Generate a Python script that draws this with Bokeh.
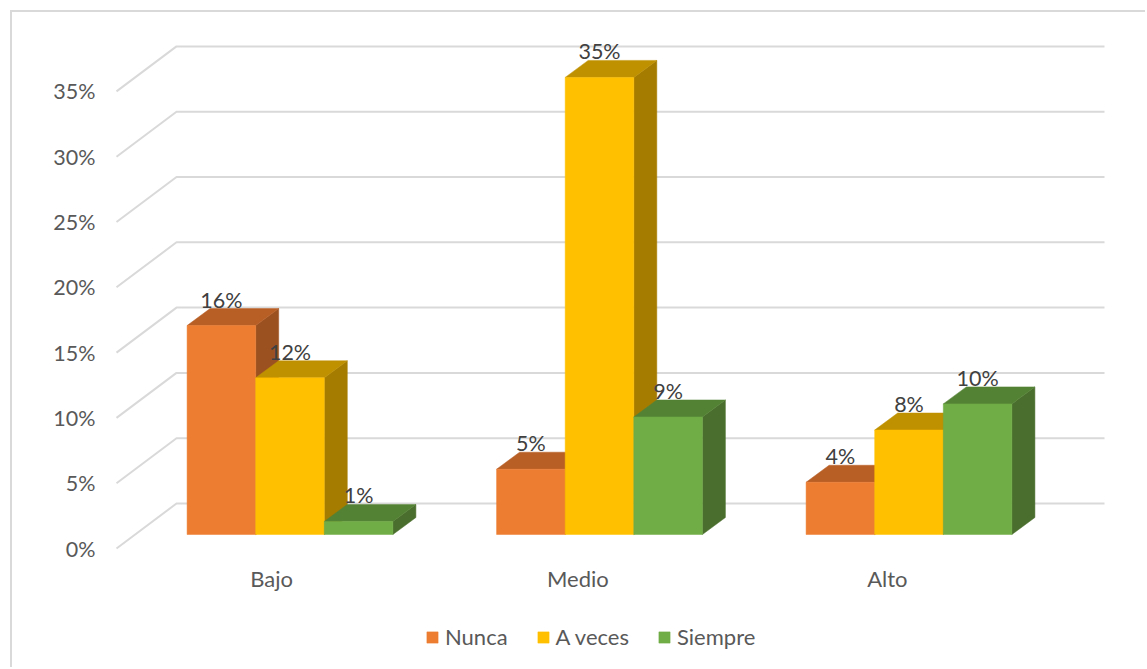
from bokeh.plotting import figure
from bokeh.models import (Range1d, FixedTicker, PrintfTickFormatter, Legend, LegendItem)
from bokeh.core.properties import value
from bokeh.embed import file_html
from bokeh.resources import INLINE

categories = ["Bajo", "Medio", "Alto"]
nunca = [16, 5, 4]
a_veces = [12, 35, 8]
siempre = [1, 9, 10]
series_names = ["Nunca", "A veces", "Siempre"]
y_ticks = [0, 5, 10, 15, 20, 25, 30, 35]
category_ticks = [-0.0595, 0.93, 1.93]
front_colors = ["#ED7D31", "#FFC000", "#70AD47"]
top_colors = ["#B85F26", "#BF9000", "#548235"]
side_colors = ["#9C5220", "#A67C00", "#4A6E2D"]

FONT = "Lato"
PX_X = 309.5   # pixels per category
PX_Y = 13.06   # pixels per percent
BAR = 68.6 / PX_X
DX = 23 / PX_X
DY = 17 / PX_Y
BASE = 14 / PX_Y
WALL_L = (176 - 289.5) / PX_X
WALL_R = (1104 - 289.5) / PX_X
FRONT_L = (116 - 289.5) / PX_X
BACK = 45 / PX_Y
OX, OY = 12, 12  # where the canvas begins on the page

p = figure(width=1147 - OX, height=669 - OY, output_backend="svg", toolbar_location=None,
           x_range=Range1d((OX - 289.5) / PX_X, (1147 - 289.5) / PX_X),
           y_range=Range1d((548 - 669) / PX_Y, (548 - OY) / PX_Y),
           min_border_left=0, min_border_right=0, min_border_top=0, min_border_bottom=0,
           outline_line_color=None, margin=(10, 0, 0, 10),
           styles={"border-left": "2px solid #D9D9D9", "border-top": "2px solid #D9D9D9"})
p.grid.visible = False

# y axis: labels sit inside the frame, which fills the whole picture
ya = p.yaxis[0]
ya.ticker = FixedTicker(ticks=y_ticks)
ya.formatter = PrintfTickFormatter(format="%d%%")
ya.axis_line_color = None
ya.major_tick_line_color = None
ya.minor_tick_line_color = None
ya.major_label_standoff = OX - 101
ya.major_label_text_font = FONT
ya.major_label_text_font_size = "21.5px"
ya.major_label_text_color = "#595959"

# x axis
xa = p.xaxis[0]
xa.ticker = FixedTicker(ticks=category_ticks)
xa.major_label_overrides = {t: c for t, c in zip(category_ticks, categories)}
xa.axis_line_color = None
xa.major_tick_line_color = None
xa.minor_tick_line_color = None
xa.major_label_standoff = 558 - 669
xa.major_label_text_font = FONT
xa.major_label_text_font_size = "22px"
xa.major_label_text_color = "#595959"

# walls
xs, ys = [], []
for v in y_ticks:
    xs.append([FRONT_L, WALL_L, WALL_R])
    ys.append([v, v + BACK, v + BACK])
p.multi_line(xs, ys, line_color="#D9D9D9", line_width=2)

# bars, painted left to right so that each covers its left neighbour's side
all_series = [nunca, a_veces, siempre]
label_x, label_y, label_t = [], [], []
renderers = {}
for g in range(len(categories)):
    for s, vals in enumerate(all_series):
        v = vals[g]
        x0 = g + (s - 1) * BAR - BAR / 2
        x1 = x0 + BAR
        y0 = BASE
        y1 = BASE + v
        p.patch([x1, x1 + DX, x1 + DX, x1], [y0, y0 + DY, y1 + DY, y1],
                fill_color=side_colors[s], line_color=side_colors[s], line_width=0.5)
        p.patch([x0, x1, x1 + DX, x0 + DX], [y1, y1, y1 + DY, y1 + DY],
                fill_color=top_colors[s], line_color=top_colors[s], line_width=0.5)
        r = p.quad(left=[x0], right=[x1], bottom=[y0], top=[y1],
                   fill_color=front_colors[s], line_color=front_colors[s], line_width=0.5)
        renderers.setdefault(s, r)
        label_x.append((x0 + x1) / 2)
        label_y.append(y1)
        label_t.append(f"{v}%")

p.text(x=label_x, y=label_y, text=label_t, text_align="center", text_baseline="middle",
       y_offset=-26, text_font=value(FONT), text_font_size="21.5px", text_color="#404040")

items = [LegendItem(label=n, renderers=[renderers[i]]) for i, n in enumerate(series_names)]
legend = Legend(items=items, orientation="horizontal", location=(425 - OX, 19),
                glyph_width=14, glyph_height=14, label_standoff=6, spacing=28,
                padding=0, margin=0, border_line_color=None, background_fill_alpha=0,
                label_text_font=FONT, label_text_font_size="22px", label_text_color="#595959")
p.add_layout(legend, "center")

open("out.html", "w").write(file_html(p, INLINE))
